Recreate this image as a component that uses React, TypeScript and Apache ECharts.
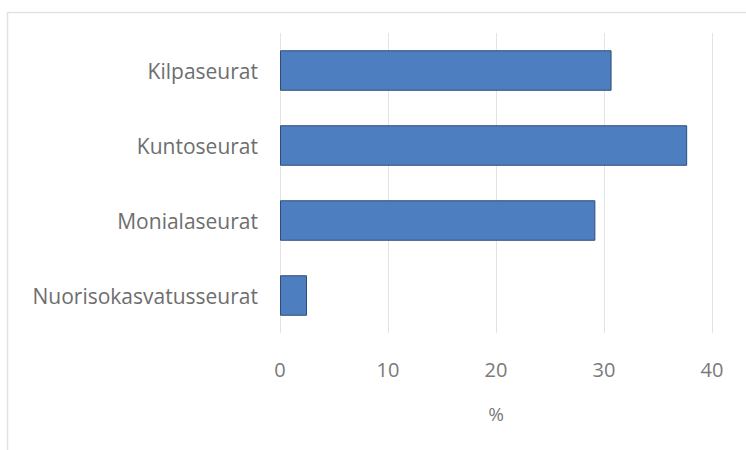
import React, { useEffect, useRef } from "react";
import * as echarts from "echarts";

const categories = ["Kilpaseurat", "Kuntoseurat", "Monialaseurat", "Nuorisokasvatusseurat"];
const values = [30.7, 37.7, 29.2, 2.5];
const xTicks = [0, 10, 20, 30, 40];
const axisName = "%";

export default function App() {
  const ref = useRef<HTMLDivElement>(null);
  useEffect(() => {
    document.body.style.margin = "0";
    const chart = echarts.init(ref.current!, null, { renderer: "svg" });
    chart.setOption({
      animation: false,
      backgroundColor: "#ffffff",
      textStyle: { fontFamily: "Open Sans" },
      graphic: [
        {
          type: "rect",
          shape: { x: 7.5, y: 12.5, width: 900, height: 600 },
          style: { fill: "none", stroke: "#e2e2e2", lineWidth: 1.5 },
          silent: true,
        },
      ],
      grid: { left: 280, right: 34, top: 33, bottom: 117, containLabel: false },
      xAxis: {
        type: "value",
        min: xTicks[0],
        max: xTicks[xTicks.length - 1],
        interval: 10,
        name: axisName,
        nameLocation: "middle",
        nameGap: 71,
        nameTextStyle: { color: "#7a7a7a", fontSize: 19, fontFamily: "Open Sans" },
        axisLine: { show: false },
        axisTick: { show: false },
        axisLabel: { color: "#7a7a7a", fontSize: 20, margin: 26, fontFamily: "Open Sans" },
        splitLine: { show: true, lineStyle: { color: "#e3e3e3", width: 1 } },
      },
      yAxis: {
        type: "category",
        data: categories,
        inverse: true,
        axisLine: { show: false },
        axisTick: { show: false },
        axisLabel: { color: "#6e6e6e", fontSize: 21, margin: 22, fontFamily: "Open Sans" },
        splitLine: { show: false },
      },
      series: [
        {
          type: "bar",
          data: values,
          barCategoryGap: "46%",
          itemStyle: { color: "#4d7ebf", borderColor: "#2f4d78", borderWidth: 1 },
        },
      ],
    });
    return () => chart.dispose();
  }, []);
  return <div ref={ref} style={{ width: 746, height: 450 }} />;
}
